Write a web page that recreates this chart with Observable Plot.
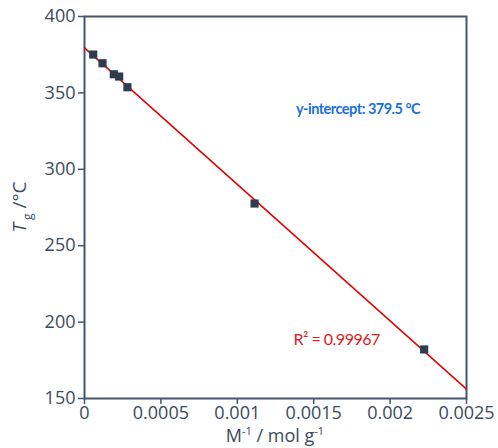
<!DOCTYPE html>
<html>
<head>
<meta charset="utf-8">
<script src="https://cdn.jsdelivr.net/npm/d3@7"></script>
<script src="https://cdn.jsdelivr.net/npm/@observablehq/plot@0.6"></script>
<style>
  html, body { margin: 0; padding: 0; background: #fff; }
  #chart { width: 498px; height: 448px; }
  .annot text { letter-spacing: -0.5px; }
</style>
</head>
<body>
<div id="chart"></div>
<script>
// Measured data: inverse molar mass vs glass transition temperature
const invM = [0.000057, 0.000118, 0.000192, 0.000227, 0.000281, 0.001113, 0.002223];
const tg = [375.1, 369.4, 362.2, 360.7, 353.7, 277.6, 182.1];
// Linear fit line
const fitX = [0, 0.0025];
const fitY = [379.5, 156.1];
const xTicks = [0, 0.0005, 0.001, 0.0015, 0.002, 0.0025];
const yTicks = [150, 200, 250, 300, 350, 400];
const interceptText = "y-intercept: 379.5 °C";
const r2Text = "R² = 0.99967";

const points = invM.map((x, i) => ({x, y: tg[i]}));
const fit = fitX.map((x, i) => ({x, y: fitY[i]}));

const axisColor = "#46566e";
const textColor = "#3b4a5e";

const plot = Plot.plot({
  width: 498,
  height: 448,
  marginLeft: 84,
  marginRight: 32,
  marginTop: 16,
  marginBottom: 50,
  style: {fontFamily: "'Open Sans', sans-serif", fontSize: "18px", color: textColor, background: "#fff", overflow: "visible"},
  x: {domain: [0, 0.0025], ticks: xTicks, tickFormat: d => String(d), label: null},
  y: {domain: [150, 400], ticks: yTicks, tickFormat: d => String(d), label: null},
  marks: [
    Plot.frame({stroke: axisColor, strokeWidth: 2}),
    Plot.axisX({ticks: xTicks, tickFormat: d => String(d), tickSize: 6, tickPadding: 2, stroke: axisColor, strokeWidth: 1.5, fontSize: 18, label: null}),
    Plot.axisY({ticks: yTicks, tickFormat: d => String(d), tickSize: 6, tickPadding: 3, stroke: axisColor, strokeWidth: 1.5, fontSize: 18, label: null}),
    Plot.line(fit, {x: "x", y: "y", stroke: "#e00000", strokeWidth: 1.5}),
    Plot.dot(points, {x: "x", y: "y", symbol: "square", r: 4.6, fill: "#2f3b4e", stroke: "none"}),
    Plot.text([interceptText], {x: 0.00179, y: 339, text: d => d, fill: "#1a6fd8", fontWeight: "bold", fontSize: 14.5, fontFamily: "Lato, sans-serif", className: "annot"}),
    Plot.text([r2Text], {x: 0.00165, y: 188.6, text: d => d, fill: "#d82020", fontSize: 16, fontFamily: "Lato, sans-serif", className: "annot"})
  ]
});

document.getElementById("chart").appendChild(plot);

const svg = d3.select(plot);
// x-axis label
const xl = svg.append("text")
  .attr("x", 275).attr("y", 442)
  .attr("text-anchor", "middle")
  .attr("fill", textColor)
  .style("font-size", "18px");
xl.append("tspan").text("M");
xl.append("tspan").attr("dy", -7).style("font-size", "11px").text("-1");
xl.append("tspan").attr("dy", 7).text(" / mol g");
xl.append("tspan").attr("dy", -7).style("font-size", "11px").text("-1");

// y-axis label
const yl = svg.append("text")
  .attr("transform", "translate(26,207) rotate(-90)")
  .attr("text-anchor", "middle")
  .attr("fill", textColor)
  .style("font-size", "19px");
yl.append("tspan").style("font-style", "italic").text("T");
yl.append("tspan").attr("dy", 6).style("font-size", "12px").text(" g");
yl.append("tspan").attr("dy", -6).text(" /°C");
</script>
</body>
</html>
